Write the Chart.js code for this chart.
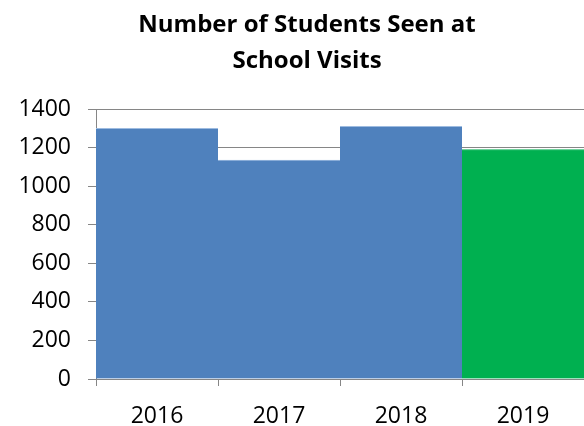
<!DOCTYPE html>
<html>
<head>
<meta charset="utf-8">
<script src="https://cdn.jsdelivr.net/npm/chart.js@4"></script>
<style>
  html, body { margin: 0; padding: 0; background: #ffffff; }
  #wrap { width: 584px; height: 426px; position: relative; }
</style>
</head>
<body>
<div id="wrap"><canvas id="c" width="584" height="426"></canvas></div>
<script>
const titleLines = ["Number of Students Seen at", "School Visits"];
const categories = ["2016", "2017", "2018", "2019"];
const studentsSeen = [1300, 1135, 1310, 1190];
const yMax = 1400;
const yStep = 200;

const barFill = ["#4F81BD", "#4F81BD", "#4F81BD", "#00B050"];
const barEdge = ["#9DBBE0", "#9DBBE0", "#9DBBE0", "#00B050"];
const FONT = "'Open Sans', 'Liberation Sans', sans-serif";

const titlePlugin = {
  id: 'customTitle',
  afterDraw(chart) {
    const ctx = chart.ctx;
    ctx.save();
    ctx.fillStyle = '#000000';
    ctx.font = "bold 24px " + FONT;
    ctx.textAlign = 'center';
    ctx.textBaseline = 'middle';
    ctx.fillText(titleLines[0], 307, 25);
    ctx.fillText(titleLines[1], 307, 61);
    ctx.restore();
  }
};

new Chart(document.getElementById('c'), {
  type: 'bar',
  data: {
    labels: categories,
    datasets: [{
      data: studentsSeen,
      backgroundColor: barFill,
      borderColor: barEdge,
      borderWidth: { top: 1, left: 0, right: 0, bottom: 0 },
      borderSkipped: false,
      barPercentage: 1.0,
      categoryPercentage: 1.0
    }]
  },
  options: {
    responsive: false,
    animation: false,
    devicePixelRatio: 1,
    layout: { padding: { top: 109, right: 0, left: 0, bottom: 0 } },
    plugins: {
      legend: { display: false },
      title: { display: false },
      tooltip: { enabled: false }
    },
    scales: {
      x: {
        grid: {
          display: true,
          drawOnChartArea: false,
          drawTicks: true,
          tickLength: 7,
          color: '#868686',
          offset: true
        },
        border: { display: true, color: '#868686', width: 1 },
        ticks: {
          color: '#000000',
          font: { family: FONT, size: 23 },
          padding: 17,
          maxRotation: 0
        },
        afterFit(scale) { scale.height = 47; }
      },
      y: {
        min: 0,
        max: yMax,
        ticks: {
          stepSize: yStep,
          color: '#000000',
          font: { family: FONT, size: 23 },
          padding: 17,
          callback: (v) => String(v)
        },
        grid: {
          color: '#868686',
          drawTicks: true,
          tickLength: 8,
          lineWidth: 1
        },
        border: { display: true, color: '#868686', width: 1 },
        afterFit(scale) { scale.width = 96; }
      }
    }
  },
  plugins: [titlePlugin]
});
</script>
</body>
</html>
